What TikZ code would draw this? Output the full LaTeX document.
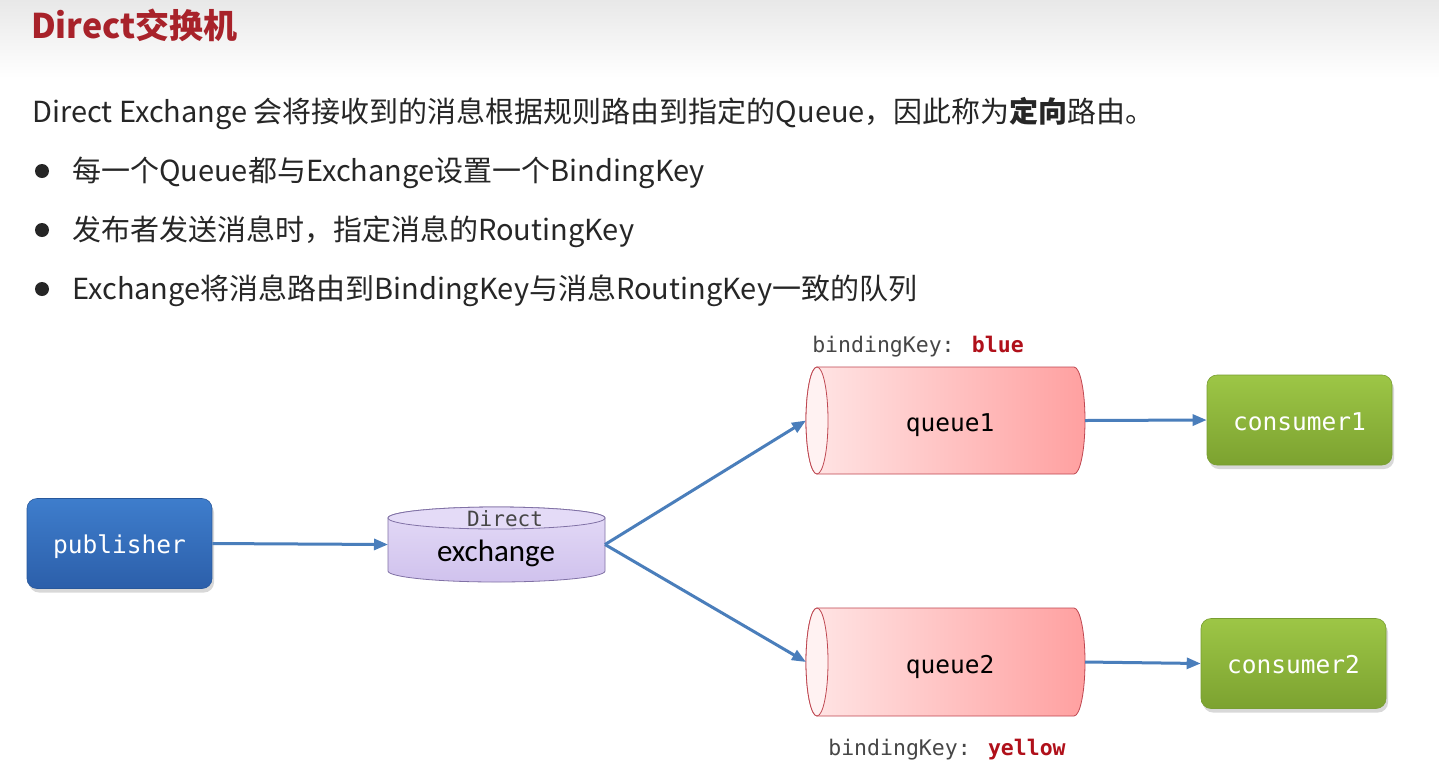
\documentclass[tikz,border=0pt]{standalone}
\usepackage{fontspec}
\setmainfont{Noto Sans CJK SC}
\newfontfamily\monof{DejaVu Sans Mono}
\newfontfamily\calibf{Carlito}
\usetikzlibrary{arrows.meta,shadows}
\definecolor{titlered}{RGB}{168,34,42}
\definecolor{bodyblack}{RGB}{38,38,38}
\definecolor{titlegray}{RGB}{232,232,232}
\definecolor{arrowblue}{RGB}{74,126,187}
\definecolor{pubtop}{RGB}{62,125,204}
\definecolor{pubbot}{RGB}{44,95,170}
\definecolor{pubedge}{RGB}{40,88,156}
\definecolor{contop}{RGB}{157,198,70}
\definecolor{conbot}{RGB}{124,162,48}
\definecolor{conedge}{RGB}{120,158,50}
\definecolor{qleft}{RGB}{255,230,230}
\definecolor{qright}{RGB}{255,160,160}
\definecolor{qedge}{RGB}{190,70,80}
\definecolor{qface}{RGB}{255,242,242}
\definecolor{extop}{RGB}{228,219,247}
\definecolor{exbot}{RGB}{208,194,237}
\definecolor{exedge}{RGB}{128,113,165}
\definecolor{keyred}{RGB}{176,16,26}
\definecolor{keygray}{RGB}{70,70,70}
\begin{document}
\begin{tikzpicture}[x=1pt,y=-1pt,
  titletext/.style={font=\fontsize{34}{40}\selectfont\bfseries, text=titlered, inner sep=0pt},
  bodytext/.style={font=\fontsize{29}{34}\selectfont, text=bodyblack, inner sep=0pt},
  bulletdot/.style={circle, fill=bodyblack, minimum size=14pt, inner sep=0pt},
  boxbase/.style={rounded corners=10pt, minimum width=185pt, minimum height=90pt,
     text=white, font=\monof\fontsize{24.5}{29}\selectfont, text height=22pt, text depth=2pt,
     drop shadow={opacity=0.3, shadow xshift=2pt, shadow yshift=-4pt}},
  pubbox/.style={boxbase, top color=pubtop, bottom color=pubbot, draw=pubedge, line width=0.6pt},
  conbox/.style={boxbase, top color=contop, bottom color=conbot, draw=conedge, line width=0.6pt},
  area/.style={inner sep=0pt, outer sep=0pt},
  qlabel/.style={font=\monof\fontsize{24.5}{29}\selectfont, text=black, text height=22pt, text depth=2pt, inner sep=0pt},
  keylabel/.style={font=\monof\fontsize{21.5}{26}\selectfont, text=keygray, inner sep=0pt},
  arr/.style={draw=arrowblue, line width=3pt, -{Triangle[length=14pt,width=11pt]}},
  qshape/.style={left color=qleft, right color=qright},
  qoutline/.style={draw=qedge, line width=0.8pt}
]
\useasboundingbox (0,0) rectangle (1439,764);
\fill[white] (0,0) rectangle (1439,764);
\shade[top color=titlegray, bottom color=white] (0,0) rectangle (1439,78);

% title and text
\node[titletext, anchor=base west] (title) at (31,38) {Direct交换机};
\node[bodytext, anchor=base west] (intro) at (32,122) {Direct Exchange 会将接收到的消息根据规则路由到指定的Queue，因此称为\textbf{定向}路由。};
\node[bulletdot] (b1) at (42,171) {};
\node[bulletdot] (b2) at (42,230) {};
\node[bulletdot] (b3) at (42,289) {};
\node[bodytext, anchor=base west] (t1) at (72,181) {每一个Queue都与Exchange设置一个BindingKey};
\node[bodytext, anchor=base west] (t2) at (72,240) {发布者发送消息时，指定消息的RoutingKey};
\node[bodytext, anchor=base west] (t3) at (72,299) {Exchange将消息路由到BindingKey与消息RoutingKey一致的队列};

% publisher and consumers
\node[pubbox] (pub) at (119.5,543.5) {publisher};
\node[conbox] (c1) at (1299.5,420) {consumer1};
\node[conbox] (c2) at (1293.5,663.5) {consumer2};

% exchange cylinder
\node[area, minimum width=217pt, minimum height=75pt] (ex) at (496.5,544.5) {};
\shade[top color=extop, bottom color=exbot, draw=exedge, line width=0.8pt]
  (388,518) -- (388,571) arc[start angle=180, end angle=0, x radius=108.5, y radius=11]
  -- (605,518) arc[start angle=0, end angle=-180, x radius=108.5, y radius=11] -- cycle;
\draw[exedge, fill=extop, line width=0.8pt] (496.5,518) ellipse[x radius=108.5, y radius=11];
\node[font=\monof\fontsize{21}{25}\selectfont, text=keygray, inner sep=0pt] (exd) at (505,519) {Direct};
\node[font=\calibf\fontsize{31}{36}\selectfont, text=black, inner sep=0pt] (exn) at (496,553) {exchange};

% queue1
\node[area, minimum width=279pt, minimum height=107pt] (q1) at (945.5,420.5) {};
\shade[qshape] (817,367) -- (1074,367) arc[start angle=-90, end angle=90, x radius=11, y radius=53.5]
  -- (817,474) arc[start angle=90, end angle=270, x radius=11, y radius=53.5] -- cycle;
\draw[qoutline] (817,367) -- (1074,367) arc[start angle=-90, end angle=90, x radius=11, y radius=53.5]
  -- (817,474) arc[start angle=90, end angle=270, x radius=11, y radius=53.5] -- cycle;
\draw[qoutline, fill=qface] (817,420.5) ellipse[x radius=11, y radius=53.5];
\node[qlabel] (q1l) at (950,421) {queue1};

% queue2
\node[area, minimum width=279pt, minimum height=108pt] (q2) at (945.5,662) {};
\shade[qshape] (817,608) -- (1074,608) arc[start angle=-90, end angle=90, x radius=11, y radius=54]
  -- (817,716) arc[start angle=90, end angle=270, x radius=11, y radius=54] -- cycle;
\draw[qoutline] (817,608) -- (1074,608) arc[start angle=-90, end angle=90, x radius=11, y radius=54]
  -- (817,716) arc[start angle=90, end angle=270, x radius=11, y radius=54] -- cycle;
\draw[qoutline, fill=qface] (817,662) ellipse[x radius=11, y radius=54];
\node[qlabel] (q2l) at (950,663) {queue2};

% binding keys
\node[keylabel] (bk1) at (918,347) {bindingKey: {\bfseries\color{keyred}blue}};
\node[keylabel] (bk2) at (947,750) {bindingKey: {\bfseries\color{keyred}yellow}};

% connectors
\draw[arr] (pub.east) -- (ex.west);
\draw[arr] (ex.east) -- (q1.west);
\draw[arr] (ex.east) -- (q2.west);
\draw[arr] (q1.east) -- (c1.west);
\draw[arr] (q2.east) -- (c2.west);
\end{tikzpicture}
\end{document}
